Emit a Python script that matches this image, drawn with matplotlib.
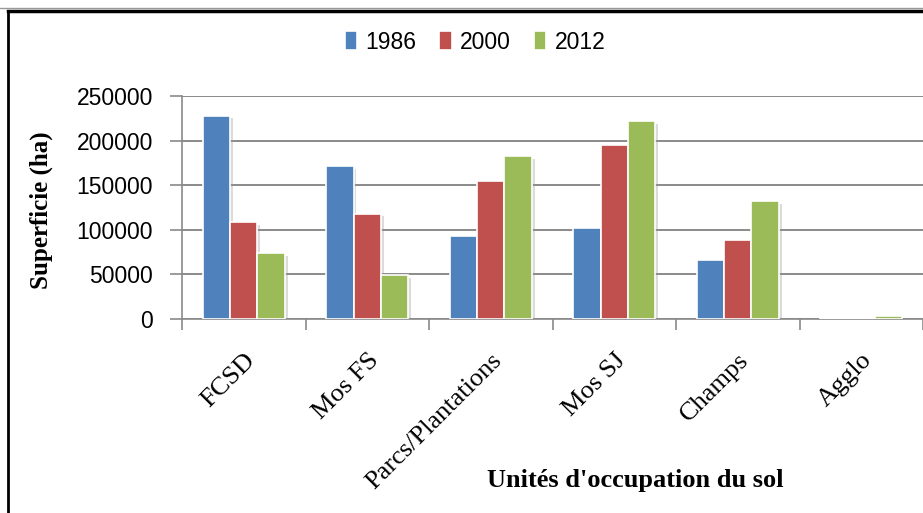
import numpy as np
import matplotlib
matplotlib.use("Agg")
import matplotlib.pyplot as plt
import matplotlib.patheffects as pe
from matplotlib.lines import Line2D

# land-cover units and their area (ha) per year
units = ["FCSD", "Mos FS", "Parcs/Plantations", "Mos SJ", "Champs", "Agglo"]
years = ["1986", "2000", "2012"]
area_1986 = [228000, 171000, 93000, 102000, 66000, 400]
area_2000 = [108000, 118000, 155000, 194500, 88000, 900]
area_2012 = [74000, 49000, 182500, 222000, 132000, 3300]
colors = ["#4F81BD", "#C0504D", "#9BBB59"]
yticks = [0, 50000, 100000, 150000, 200000, 250000]


def main():
    fig = plt.figure(figsize=(9.23, 5.13), dpi=100)
    ax = fig.add_axes([0.1972, 0.3788, 0.8028, 0.4341])

    x = np.arange(len(units))
    w = 0.222
    series = [area_1986, area_2000, area_2012]
    all_bars = []
    for i, (vals, c, lab) in enumerate(zip(series, colors, years)):
        bars = ax.bar(x + (i - 1) * w, vals, width=w, color=c, edgecolor="white",
                      linewidth=1.2, label=lab, zorder=3)
        all_bars.extend(bars)

    ax.set_xlim(-0.5, len(units) - 0.5)
    ax.set_ylim(0, 250000)
    ax.set_yticks(yticks)
    ax.set_yticklabels([str(v) for v in yticks], fontfamily="Liberation Sans", fontsize=16.5)
    ax.yaxis.grid(True, color="#8a8a8a", linewidth=1.4, zorder=0)
    ax.set_axisbelow(True)

    ax.set_xticks(x)
    ax.set_xticks(np.arange(len(units) + 1) - 0.5, minor=True)
    ax.set_xticklabels(units, rotation=45, ha="right", rotation_mode="anchor",
                       fontfamily="Liberation Serif", fontsize=19)
    ax.tick_params(axis="x", which="major", length=0, pad=22)
    ax.tick_params(axis="x", which="minor", length=8, color="#8a8a8a", width=1.2)
    ax.tick_params(axis="y", length=9, color="#8a8a8a", width=1.2, pad=12)

    for s in ["top", "right"]:
        ax.spines[s].set_visible(False)
    for s in ["left", "bottom"]:
        ax.spines[s].set_color("#8a8a8a")
        ax.spines[s].set_linewidth(1.2)

    fig.text(0.0444, 0.591, "Superficie (ha)", rotation=90, ha="center", va="center",
             fontfamily="Liberation Serif", fontweight="bold", fontsize=18)
    fig.text(0.688, 0.064, "Unités d'occupation du sol", ha="center", va="center",
             fontfamily="Liberation Serif", fontweight="bold", fontsize=19)

    fig.legend(loc="center", bbox_to_anchor=(0.5146, 0.918), ncol=3, frameon=False,
               prop={"family": "Liberation Sans", "size": 16.5},
               handlelength=0.55, handleheight=0.9, handletextpad=0.35, columnspacing=1.0)

    # soft shadow on the bars only (added after the legend so the keys stay flat)
    shadow = [pe.SimplePatchShadow(offset=(2, -2), shadow_rgbFace="#999999", alpha=0.35),
              pe.Normal()]
    for b in all_bars:
        b.set_path_effects(shadow)

    # frame drawn around the chart area
    fig.add_artist(Line2D([0.0087, 1.0], [0.9786, 0.9786], color="black", linewidth=2.5))
    fig.add_artist(Line2D([0.0087, 0.0087], [0.0, 0.9786], color="black", linewidth=2))
    fig.add_artist(Line2D([0.0, 1.0], [0.984, 0.984], color="#999999", linewidth=1))

    fig.savefig("out.png", dpi=100)


if __name__ == "__main__":
    main()
